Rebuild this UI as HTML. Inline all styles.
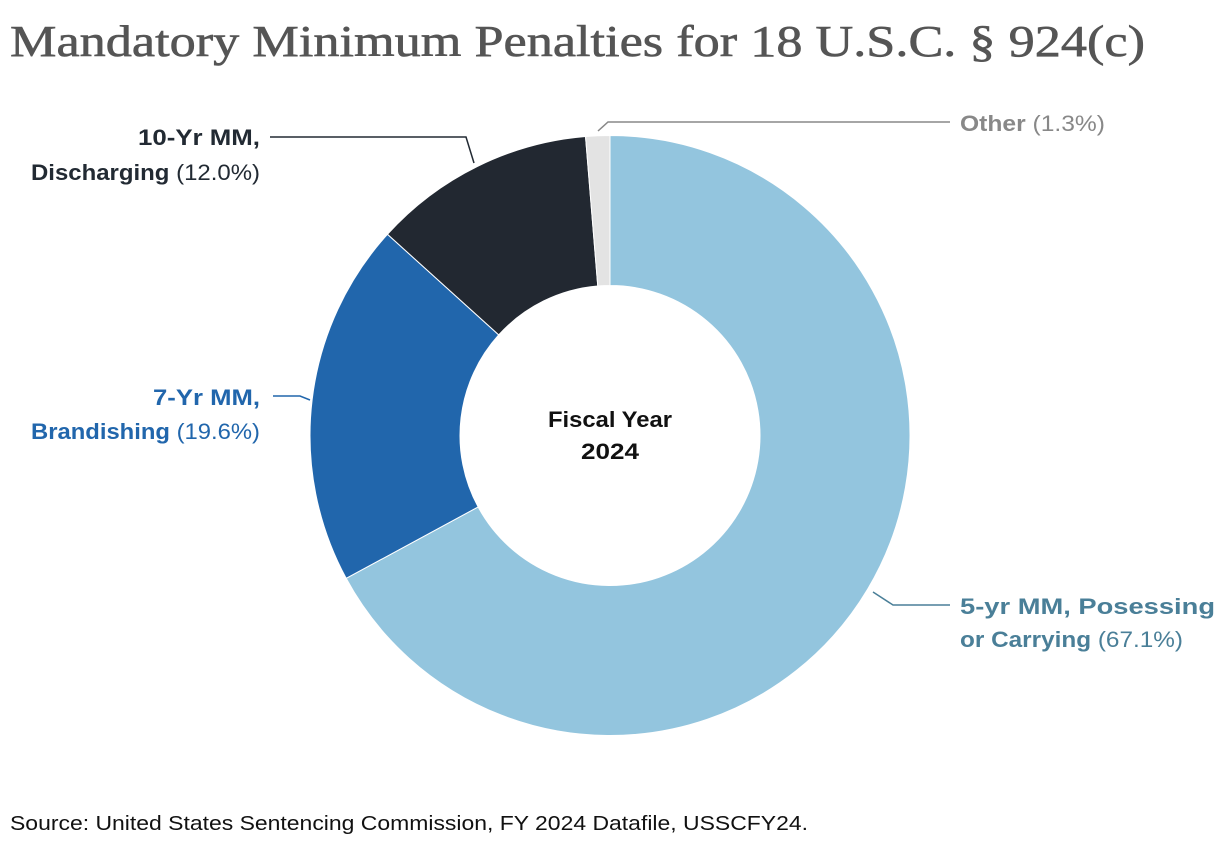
<!DOCTYPE html>
<html><head><meta charset="utf-8"><style>
html,body{margin:0;padding:0;background:#fff;}
svg{display:block;font-family:"Liberation Sans",sans-serif;}
</style></head><body>
<svg width="1220" height="846" viewBox="0 0 1220 846">
<text x="10" y="56" font-family="Liberation Serif, serif" font-size="44" fill="#555" stroke="#555" stroke-width="0.6" textLength="1135" lengthAdjust="spacingAndGlyphs">Mandatory Minimum Penalties for 18 U.S.C. § 924(c)</text>
<g id="slices"></g>
<text x="610" y="427" text-anchor="middle" font-size="22" font-weight="bold" fill="#111" textLength="124" lengthAdjust="spacingAndGlyphs">Fiscal Year</text>
<text x="610" y="459" text-anchor="middle" font-size="22" font-weight="bold" fill="#111" textLength="58" lengthAdjust="spacingAndGlyphs">2024</text>

<g fill="none" stroke-width="1.5">
<polyline points="598,131 608,122 950,122" stroke="#888"/>
<polyline points="270,137 466,137 474,163" stroke="#222a33"/>
<polyline points="273,396 300,396 310,400" stroke="#2166ac"/>
<polyline points="873,592 893,605 950,605" stroke="#4a7f98"/>
</g>

<text x="960" y="131" font-size="22" fill="#888" textLength="145" lengthAdjust="spacingAndGlyphs"><tspan font-weight="bold">Other</tspan> (1.3%)</text>
<text x="260" y="145" text-anchor="end" font-size="22" fill="#222a33" font-weight="bold" textLength="122" lengthAdjust="spacingAndGlyphs">10-Yr MM,</text>
<text x="260" y="180" text-anchor="end" font-size="22" fill="#222a33" textLength="229" lengthAdjust="spacingAndGlyphs"><tspan font-weight="bold">Discharging</tspan> (12.0%)</text>
<text x="260" y="405" text-anchor="end" font-size="22" fill="#2166ac" font-weight="bold" textLength="107" lengthAdjust="spacingAndGlyphs">7-Yr MM,</text>
<text x="260" y="439" text-anchor="end" font-size="22" fill="#2166ac" textLength="229" lengthAdjust="spacingAndGlyphs"><tspan font-weight="bold">Brandishing</tspan> (19.6%)</text>
<text x="960" y="614" font-size="22" fill="#4a7f98" font-weight="bold" textLength="255" lengthAdjust="spacingAndGlyphs">5-yr MM, Posessing</text>
<text x="960" y="647" font-size="22" fill="#4a7f98" textLength="223" lengthAdjust="spacingAndGlyphs"><tspan font-weight="bold">or Carrying</tspan> (67.1%)</text>

<text x="10" y="830" font-size="20" fill="#111" textLength="798" lengthAdjust="spacingAndGlyphs">Source: United States Sentencing Commission, FY 2024 Datafile, USSCFY24.</text>
</svg>
<script>
const categories = ["5-yr MM, Posessing or Carrying","7-Yr MM, Brandishing","10-Yr MM, Discharging","Other"];
const values = [67.1, 19.6, 12.0, 1.3];
const colors = ["#93c5de","#2166ac","#222831","#e3e3e3"];
const cx=610, cy=435.5, R=300, r=150;
const g=document.getElementById('slices');
const total=values.reduce((a,b)=>a+b,0);
function pt(rad,a){return [cx+rad*Math.sin(a), cy-rad*Math.cos(a)];}
let acc=0;
values.forEach((v,i)=>{
  const a0=acc/total*2*Math.PI; acc+=v; const a1=acc/total*2*Math.PI;
  const large=(a1-a0)>Math.PI?1:0;
  const p0=pt(R,a0),p1=pt(R,a1),q1=pt(r,a1),q0=pt(r,a0);
  const p=document.createElementNS('http://www.w3.org/2000/svg','path');
  p.setAttribute('d',`M${p0[0]},${p0[1]} A${R},${R} 0 ${large} 1 ${p1[0]},${p1[1]} L${q1[0]},${q1[1]} A${r},${r} 0 ${large} 0 ${q0[0]},${q0[1]} Z`);
  p.setAttribute('fill',colors[i]);
  p.setAttribute('stroke','#fff');
  p.setAttribute('stroke-width','1');
  
  
  g.appendChild(p);
});
</script>
</body></html>
